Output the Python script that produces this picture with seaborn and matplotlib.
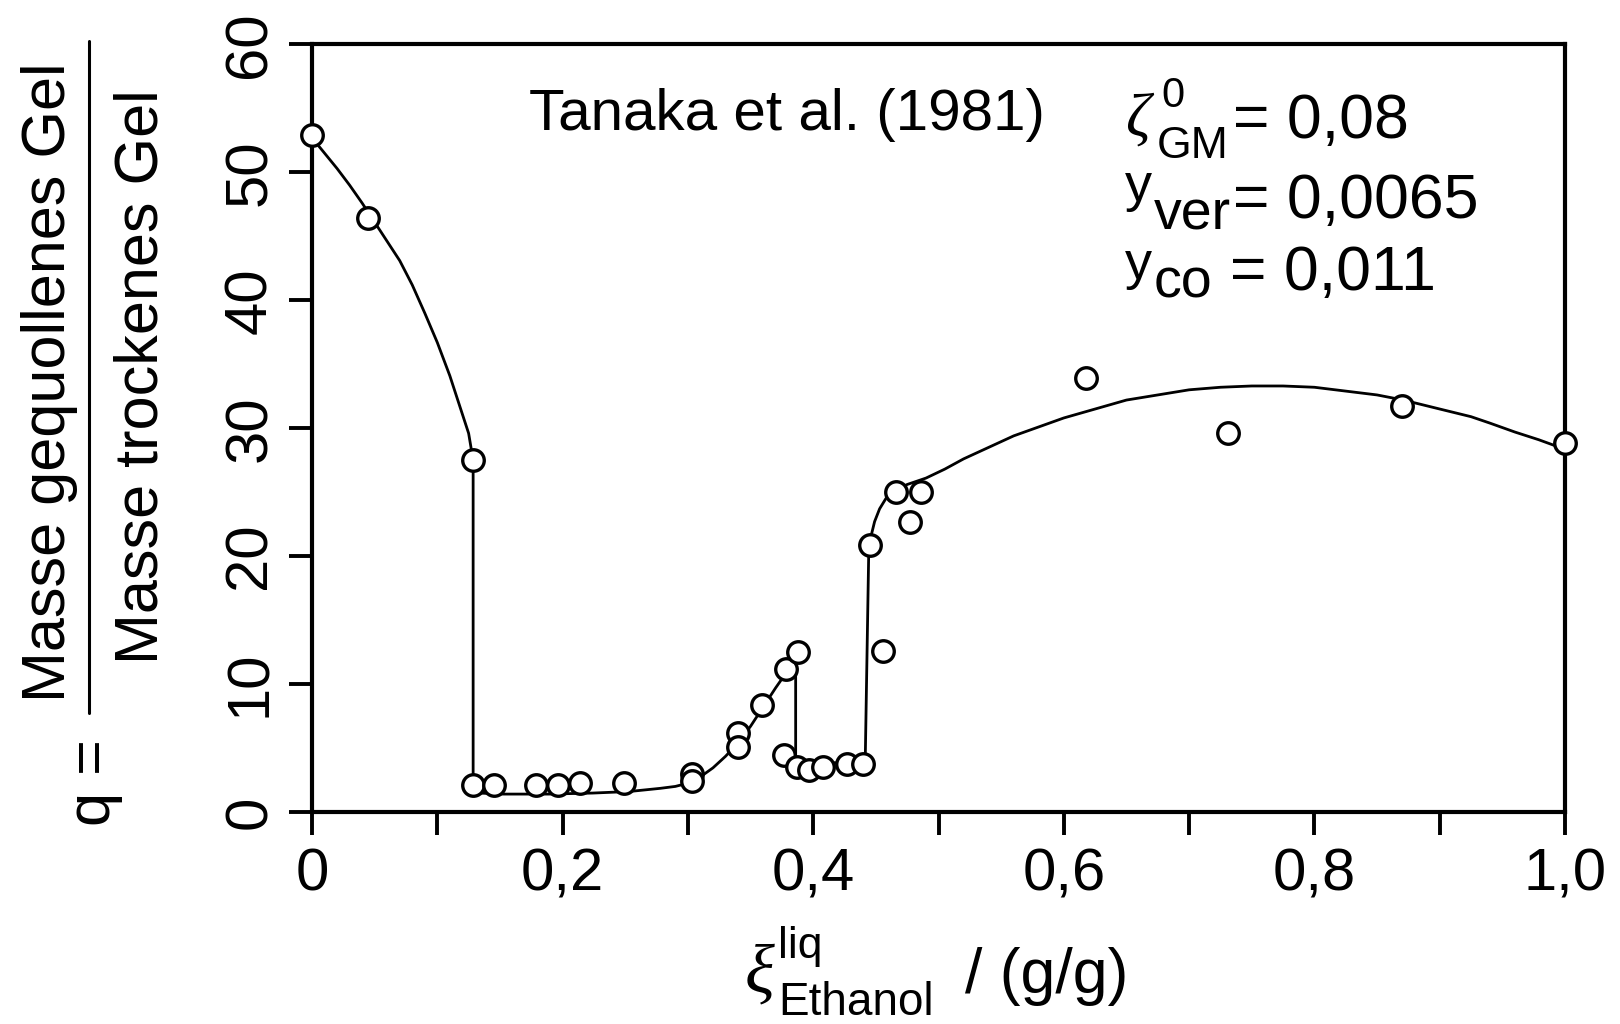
import numpy as np
import pandas as pd
import seaborn as sns
import matplotlib.pyplot as plt
from matplotlib.lines import Line2D

# ---------------- data ----------------
point_x = [0.0, 0.0446, 0.1286, 0.1286, 0.145, 0.179, 0.196, 0.2136, 0.249,
           0.303, 0.303, 0.340, 0.340, 0.359, 0.378, 0.388,
           0.377, 0.387, 0.397, 0.4075, 0.427, 0.4395,
           0.445, 0.456, 0.466, 0.477, 0.486, 0.618, 0.731, 0.870, 1.0]
point_y = [52.9, 46.4, 27.5, 2.1, 2.1, 2.1, 2.1, 2.3, 2.3,
           2.95, 2.45, 6.2, 5.1, 8.4, 11.2, 12.5,
           4.45, 3.55, 3.25, 3.55, 3.75, 3.75,
           20.85, 12.6, 25.0, 22.7, 25.05, 33.9, 29.6, 31.7, 28.85]

curve_x = [0.0, 0.01, 0.02, 0.03, 0.04, 0.05, 0.06, 0.07, 0.08, 0.09, 0.10,
           0.11, 0.12, 0.125, 0.1286,
           0.1286, 0.153, 0.189, 0.224, 0.253, 0.278, 0.29, 0.30, 0.31, 0.32,
           0.33, 0.34, 0.35, 0.36, 0.37, 0.38, 0.386,
           0.386, 0.400, 0.420, 0.4415,
           0.4443, 0.446, 0.449, 0.453, 0.458, 0.465, 0.475, 0.49, 0.505,
           0.52, 0.54, 0.56, 0.58, 0.60, 0.625, 0.65, 0.675, 0.70, 0.725,
           0.75, 0.775, 0.80, 0.825, 0.85, 0.871, 0.90, 0.925, 0.94, 0.96,
           0.979, 1.0]
curve_y = [52.7, 51.5, 50.3, 49.0, 47.6, 46.1, 44.6, 43.1, 41.2, 39.0, 36.7,
           34.1, 31.1, 29.6, 27.5,
           1.5, 1.4, 1.4, 1.48, 1.6, 1.85, 2.0, 2.25, 2.75, 3.45,
           4.35, 5.4, 6.7, 8.2, 9.7, 11.1, 11.8,
           3.9, 3.85, 3.85, 3.85,
           20.2, 21.5, 22.7, 23.7, 24.5, 25.1, 25.6, 26.1, 26.8,
           27.6, 28.5, 29.4, 30.1, 30.8, 31.5, 32.2, 32.6, 33.0, 33.2,
           33.3, 33.3, 33.2, 32.9, 32.6, 32.2, 31.5, 30.9, 30.4, 29.7,
           29.1, 28.35]

x_ticks = [0.0, 0.1, 0.2, 0.3, 0.4, 0.5, 0.6, 0.7, 0.8, 0.9, 1.0]
x_tick_labels = ["0", "", "0,2", "", "0,4", "", "0,6", "", "0,8", "", "1,0"]
y_ticks = [0, 10, 20, 30, 40, 50, 60]
y_tick_labels = ["0", "10", "20", "30", "40", "50", "60"]

source_text = "Tanaka et al. (1981)"
ylabel_num = "Masse gequollenes Gel"
ylabel_den = "Masse trockenes Gel"
ylabel_q = "q ="

# ---------------- style ----------------
sns.set_theme(style="ticks")
plt.rcParams['font.family'] = ['Liberation Sans', 'DejaVu Sans']
plt.rcParams['text.color'] = 'black'

W, H = 1620, 1024
fig = plt.figure(figsize=(W / 100, H / 100), dpi=100)
fig.patch.set_facecolor('white')

x0, x1, y0, y1 = 312, 1565, 812, 44.4
ax = fig.add_axes([x0 / W, 1 - y0 / H, (x1 - x0) / W, (y0 - y1) / H])
ax.set_facecolor('white')

curve_df = pd.DataFrame({"x": curve_x, "y": curve_y})
pts_df = pd.DataFrame({"x": point_x, "y": point_y})

sns.lineplot(data=curve_df, x="x", y="y", sort=False, estimator=None,
             color="black", linewidth=2.0, ax=ax, zorder=2)
sns.scatterplot(data=pts_df, x="x", y="y", marker="o", s=15.5 ** 2,
                facecolor="white", edgecolor="black", linewidth=2.4,
                ax=ax, zorder=3, clip_on=False)

ax.set_xlim(0, 1)
ax.set_ylim(0, 60)
ax.set_xticks(x_ticks)
ax.set_xticklabels(x_tick_labels)
ax.set_yticks(y_ticks)
ax.set_yticklabels(y_tick_labels)
ax.set_xlabel("")
ax.set_ylabel("")

ax.tick_params(axis='both', direction='out', length=16.5, width=2.8,
               color='black', labelcolor='black', labelsize=43)
ax.tick_params(axis='x', pad=9)
ax.tick_params(axis='y', pad=8, labelrotation=90)
for lbl in ax.get_yticklabels():
    lbl.set_va('center')
    lbl.set_ha('right')

for s in ax.spines.values():
    s.set_visible(True)
    s.set_linewidth(3)
    s.set_color('black')


def put(px, py, s, size, **kw):
    kw.setdefault('ha', 'left')
    kw.setdefault('va', 'baseline')
    return fig.text(px / W, 1 - py / H, s, fontsize=size, color='black', **kw)


greek = dict(family=['Liberation Serif', 'DejaVu Serif'], style='italic')

# source label
put(529, 130, source_text, 42)

# parameter block
put(1125, 136, "ζ", 44, **greek)
put(1161, 107, "0", 30)
put(1157, 158, "GM", 32)
put(1233, 138, "= 0,08", 45)

put(1125, 201, "y", 39)
put(1154, 230, "ver", 40)
put(1233, 218, "= 0,0065", 45)

put(1125, 279, "y", 39)
put(1154, 298, "co", 40)
put(1230, 290, "= 0,011", 45)

# x axis label
put(745, 992, "ξ", 50, **greek)
put(778, 958, "liq", 32)
put(778, 1015, "Ethanol", 33)
put(965, 993, "/ (g/g)", 45)

# y axis label (fraction, rotated)
put(65, 382.5, ylabel_num, 44, rotation=90, rotation_mode='anchor',
    ha='center', va='baseline')
put(157, 377, ylabel_den, 44, rotation=90, rotation_mode='anchor',
    ha='center', va='baseline')
put(110, 783, ylabel_q, 44, rotation=90, rotation_mode='anchor',
    ha='center', va='baseline')
fig.add_artist(Line2D([88.5 / W, 88.5 / W], [1 - 41 / H, 1 - 713 / H],
                      transform=fig.transFigure, color='black', linewidth=2.2))

fig.savefig("out.png", dpi=100, facecolor='white')
